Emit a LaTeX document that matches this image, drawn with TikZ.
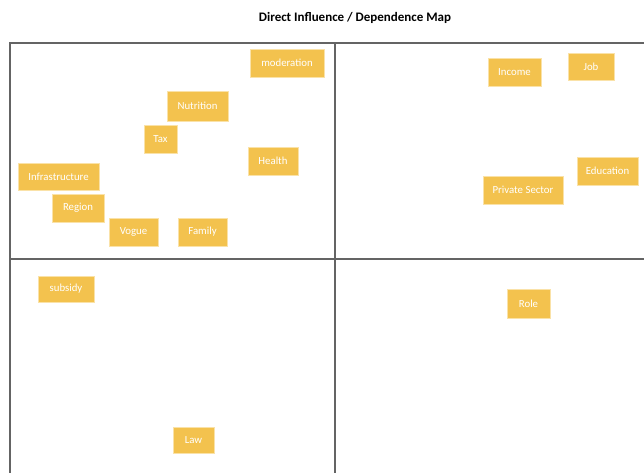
\documentclass[tikz,border=0pt]{standalone}
\usepackage{fontspec}
\setmainfont{Carlito}
\usepackage{tikz}
\definecolor{sticky}{RGB}{243,194,78}
\definecolor{stickyedge}{RGB}{250,226,168}
\definecolor{gridline}{RGB}{100,100,100}

\begin{document}
\begin{tikzpicture}[x=1pt,y=-1pt]
        \tikzstyle{box}=[fill=sticky,draw=stickyedge,line width=0.6pt,text=white,inner sep=0pt,minimum height=28pt,font=\fontsize{10.8}{13}\selectfont]
        \tikzstyle{quadrant}=[draw=gridline,line width=1.1pt]
        \useasboundingbox (0,0) rectangle (644,473);
        \node[font=\bfseries\fontsize{13}{15}\selectfont] (title) at (355,18) {Direct Influence / Dependence Map};
        % quadrants
        \coordinate (tl) at (10,43); \coordinate (tr) at (644,43); \coordinate (bl) at (10,473);
        \coordinate (vt) at (335,43); \coordinate (vb) at (335,473);
        \coordinate (hl) at (10,259); \coordinate (hr) at (644,259);
        \draw[quadrant] (tr) -- (tl) -- (bl);
        \draw[quadrant] (vt) -- (vb);
        \draw[quadrant] (hl) -- (hr);
        % top left
        \node[box,minimum width=74pt] (moderation) at (287,63) {moderation};
        \node[box,minimum width=61pt,minimum height=30pt] (nutrition) at (197.5,106) {Nutrition};
        \node[box,minimum width=33pt] (tax) at (160.5,139) {Tax};
        \node[box,minimum width=50pt] (health) at (273,161) {Health};
        \node[box,minimum width=81pt,minimum height=27pt] (infrastructure) at (58.5,176.5) {Infrastructure};
        \node[box,minimum width=52pt] (region) at (78,208) {Region};
        \node[box,minimum width=49pt] (vogue) at (133.5,232) {Vogue};
        \node[box,minimum width=49pt] (family) at (202.5,232) {Family};
        % top right
        \node[box,minimum width=53pt] (income) at (514.5,72) {Income};
        \node[box,minimum width=46pt,minimum height=27pt] (job) at (591,66.5) {Job};
        \node[box,minimum width=80pt] (private) at (523,190) {Private Sector};
        \node[box,minimum width=61pt] (education) at (607.5,171) {Education};
        % bottom
        \node[box,minimum width=56pt,minimum height=26pt] (subsidy) at (66,289) {subsidy};
        \node[box,minimum width=43pt,minimum height=29pt] (role) at (528.5,303.5) {Role};
        \node[box,minimum width=41pt,minimum height=26pt] (law) at (193.5,440) {Law};
    \end{tikzpicture}
\end{document}
